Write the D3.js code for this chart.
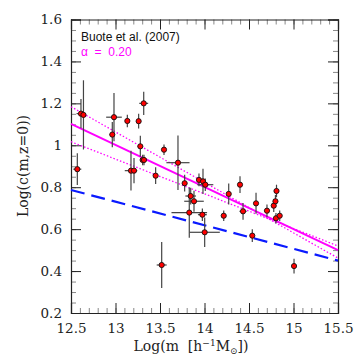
<!DOCTYPE html>
<html lang="en">
<head>
<meta charset="UTF-8">
<title>Log c(m) vs Log m</title>
<script src="https://d3js.org/d3.v7.min.js"></script>
<style>
    body { margin: 0; background: #fff; }
    .tick text { font-family: "DejaVu Serif", serif; font-size: 13.5px; fill: #222; }
    .axis path { stroke: #222; stroke-width: 1.2; }
    .axis .tick line { stroke: #222; }
    .minor .tick line { stroke: #888; }
    .minor path { stroke: none; }
    .title { font-family: "DejaVu Serif", serif; font-size: 14px; fill: #222; }
    .note { font-family: "Liberation Sans", sans-serif; font-size: 12px; }
</style>
</head>
<body>
<svg width="357" height="357"></svg>
<script>
    const logMass = [12.571, 12.612, 12.64, 12.983, 12.964, 13.133, 13.317, 13.26, 13.279, 13.305, 13.32,
        13.174, 13.208, 13.451, 13.545, 13.702, 13.519, 13.777, 13.938, 13.983, 14.009, 13.845, 13.882,
        13.829, 13.976, 14.002, 14.216, 14.272, 14.399, 14.433, 14.537, 14.579, 14.702, 14.778, 14.797,
        14.809, 14.803, 14.845, 15.006];
    const logConc = [0.886, 1.151, 1.145, 1.134, 1.051, 1.116, 1.200, 1.115, 0.995, 0.93, 0.93,
        0.879, 0.879, 0.855, 0.979, 0.917, 0.429, 0.819, 0.835, 0.828, 0.812, 0.758, 0.733,
        0.679, 0.669, 0.585, 0.664, 0.768, 0.812, 0.685, 0.569, 0.723, 0.688, 0.712, 0.733,
        0.782, 0.652, 0.664, 0.424];
    const massErr = [0.045, 0.05, 0.03, 0.088, 0.03, 0.02, 0.05, 0.02, 0.03, 0.03, 0.02,
        0.07, 0.03, 0.02, 0.02, 0.13, 0.056, 0.02, 0.02, 0.03, 0.09, 0.06, 0.11,
        0.2, 0.05, 0.17, 0.02, 0.02, 0.02, 0.04, 0.02, 0.02, 0.03, 0.02, 0.02,
        0.02, 0.02, 0.02, 0.02];
    const concErr = [0.076, 0.07, 0.165, 0.115, 0.06, 0.03, 0.055, 0.035, 0.05, 0.025, 0.025,
        0.095, 0.06, 0.04, 0.025, 0.13, 0.11, 0.04, 0.03, 0.06, 0.03, 0.04, 0.05,
        0.12, 0.03, 0.07, 0.025, 0.05, 0.04, 0.04, 0.03, 0.05, 0.03, 0.03, 0.03,
        0.03, 0.025, 0.025, 0.035];

    // fitted relations, given at the two ends of the mass range
    const lineMass = [12.5, 15.5];
    const fitBest = [1.102, 0.50];
    const fitSteep = [1.184, 0.462];
    const fitShallow = [1.017, 0.52];
    const fitModel = [0.787, 0.45];

    const xTicks = [12.5, 13, 13.5, 14, 14.5, 15, 15.5];
    const xTickLabels = ["12.5", "13", "13.5", "14", "14.5", "15", "15.5"];
    const yTicks = [0.2, 0.4, 0.6, 0.8, 1, 1.2, 1.4, 1.6];
    const yTickLabels = ["0.2", "0.4", "0.6", "0.8", "1", "1.2", "1.4", "1.6"];

    const svg = d3.select("svg");
    const plotL = 71, plotR = 338, plotT = 19.5, plotB = 313;

    const x = d3.scaleLinear().domain([12.5, 15.5]).range([plotL, plotR]);
    const y = d3.scaleLinear().domain([0.2, 1.6]).range([plotB, plotT]);

    const xMinor = d3.range(125, 156).map(d => d / 10);
    const yMinor = d3.range(4, 33).map(d => d / 20);

    // minor ticks on all four sides
    svg.append("g").attr("class", "minor").attr("transform", `translate(0,${plotB})`)
        .call(d3.axisBottom(x).tickValues(xMinor).tickSize(-5).tickFormat(""));
    svg.append("g").attr("class", "minor").attr("transform", `translate(0,${plotT})`)
        .call(d3.axisTop(x).tickValues(xMinor).tickSize(-5).tickFormat(""));
    svg.append("g").attr("class", "minor").attr("transform", `translate(${plotL},0)`)
        .call(d3.axisLeft(y).tickValues(yMinor).tickSize(-5).tickFormat(""));
    svg.append("g").attr("class", "minor").attr("transform", `translate(${plotR},0)`)
        .call(d3.axisRight(y).tickValues(yMinor).tickSize(-5).tickFormat(""));

    // major ticks
    svg.append("g").attr("class", "axis").attr("transform", `translate(0,${plotB})`)
        .call(d3.axisBottom(x).tickValues(xTicks).tickSize(-10).tickPadding(8)
            .tickFormat((d, i) => xTickLabels[i]))
        .selectAll(".tick text").attr("dy", "0.9em");
    svg.append("g").attr("class", "axis").attr("transform", `translate(0,${plotT})`)
        .call(d3.axisTop(x).tickValues(xTicks).tickSize(-10).tickFormat(""));
    svg.append("g").attr("class", "axis").attr("transform", `translate(${plotL},0)`)
        .call(d3.axisLeft(y).tickValues(yTicks).tickSize(-10).tickPadding(9)
            .tickFormat((d, i) => yTickLabels[i]));
    svg.append("g").attr("class", "axis").attr("transform", `translate(${plotR},0)`)
        .call(d3.axisRight(y).tickValues(yTicks).tickSize(-10).tickFormat(""));

    // fit lines
    const line = d3.line().x(d => x(d[0])).y(d => y(d[1]));
    const pairs = vals => lineMass.map((m, i) => [m, vals[i]]);

    svg.append("path").attr("d", line(pairs(fitModel)))
        .attr("fill", "none").attr("stroke", "#0a1aff").attr("stroke-width", 2.2)
        .attr("stroke-dasharray", "14,7");
    svg.append("path").attr("d", line(pairs(fitSteep)))
        .attr("fill", "none").attr("stroke", "#ff00ff").attr("stroke-width", 1.3)
        .attr("stroke-dasharray", "1.5,2");
    svg.append("path").attr("d", line(pairs(fitShallow)))
        .attr("fill", "none").attr("stroke", "#ff00ff").attr("stroke-width", 1.3)
        .attr("stroke-dasharray", "1.5,2");
    svg.append("path").attr("d", line(pairs(fitBest)))
        .attr("fill", "none").attr("stroke", "#ff00ff").attr("stroke-width", 2);

    // error bars
    const pts = logMass.map((m, i) => ({ m, c: logConc[i], dm: massErr[i], dc: concErr[i] }));
    const bars = svg.append("g").attr("stroke", "#444").attr("stroke-width", 1.2);
    bars.selectAll(".v").data(pts).join("line").attr("class", "v")
        .attr("x1", d => x(d.m)).attr("x2", d => x(d.m))
        .attr("y1", d => y(d.c - d.dc)).attr("y2", d => y(d.c + d.dc));
    bars.selectAll(".h").data(pts).join("line").attr("class", "h")
        .attr("x1", d => x(d.m - d.dm)).attr("x2", d => x(d.m + d.dm))
        .attr("y1", d => y(d.c)).attr("y2", d => y(d.c));

    svg.append("g").selectAll("circle").data(pts).join("circle")
        .attr("cx", d => x(d.m)).attr("cy", d => y(d.c)).attr("r", 2.6)
        .attr("fill", "#ff0000").attr("stroke", "#111").attr("stroke-width", 0.9);

    // labels
    svg.append("text").attr("class", "note").attr("x", 81).attr("y", 41)
        .attr("fill", "#111").text("Buote et al. (2007)");
    svg.append("text").attr("class", "note").attr("x", 81).attr("y", 56)
        .attr("fill", "#ff00ff").attr("xml:space", "preserve").text("α  =  0.20");

    const xt = svg.append("text").attr("class", "title").attr("x", 191).attr("y", 351)
        .attr("text-anchor", "middle").attr("xml:space", "preserve");
    xt.append("tspan").text("Log(m  [h");
    xt.append("tspan").attr("font-size", "9px").attr("dy", -5).text("−1");
    xt.append("tspan").attr("dy", 5).text("M");
    xt.append("tspan").attr("font-size", "9px").attr("dy", 3).text("⊙");
    xt.append("tspan").attr("dy", -3).text("])");

    svg.append("text").attr("class", "title")
        .attr("transform", "translate(28,166) rotate(-90)")
        .attr("text-anchor", "middle").text("Log(c(m,z=0))");
</script>
</body>
</html>
